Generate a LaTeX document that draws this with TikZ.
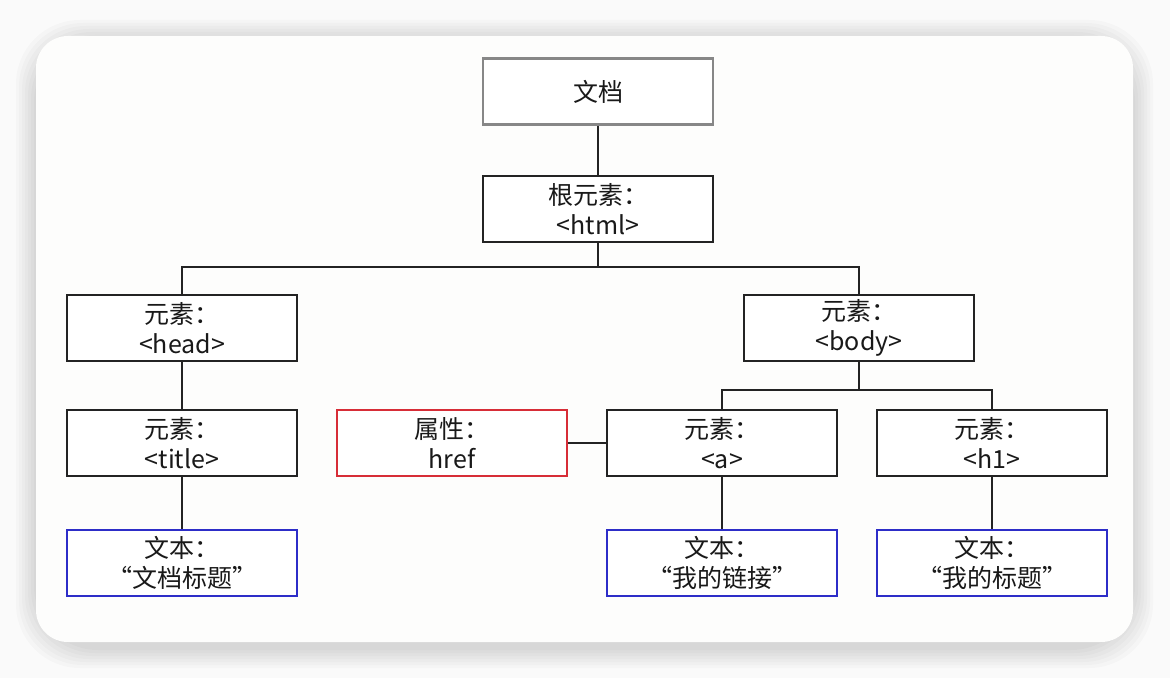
\documentclass[tikz,border=0pt]{standalone}
\usepackage{fontspec}
\setmainfont{Noto Sans CJK SC}
\usetikzlibrary{positioning}
\definecolor{boxline}{RGB}{35,35,35}
\definecolor{docline}{RGB}{135,135,135}
\definecolor{attrline}{RGB}{215,45,55}
\definecolor{textline}{RGB}{45,45,200}
\definecolor{cardbg}{RGB}{253,253,252}
\tikzset{
	domnode/.style={rectangle, draw=boxline, line width=1pt, fill=white, minimum width=115pt, minimum height=33pt, align=center, inner sep=0pt, font=\fontsize{12.5}{15}\selectfont, text=black!90},
	docnode/.style={domnode, draw=docline, line width=1.4pt},
	attrnode/.style={domnode, draw=attrline},
	textnode/.style={domnode, draw=textline},
	link/.style={draw=boxline, line width=1pt}
}
\begin{document}
\begin{tikzpicture}[x=0.5pt, y=-0.5pt]
			\useasboundingbox (0,0) rectangle (1170,678);
			\fill[white!98!black] (0,0) rectangle (1170,678);
			% soft shadow of the card
			\foreach \s in {20,17,...,0}
				\fill[black, opacity=0.02, rounded corners=32pt] (36-\s,40-\s) rectangle (1133+\s,648+\s);
			\fill[cardbg, rounded corners=16pt] (36,36) rectangle (1133,642);

			\node (doc)[docnode] at (598, 91.5) {文档};
			\node (root)[domnode] at (598, 209) {根元素：\\<html>};

			\node (head)[domnode] at (182, 328) {元素：\\<head>};
			\node (body)[domnode] at (859, 328) {元素：\\<body>};

			\node (title)[domnode] at (182, 443) {元素：\\<title>};
			\node (href)[attrnode] at (452, 443) {属性：\\href};
			\node (a)[domnode] at (722, 443) {元素：\\<a>};
			\node (h1)[domnode] at (992, 443) {元素：\\<h1>};

			\node (titletext)[textnode] at (182, 563) {文本：\\“文档标题”};
			\node (atext)[textnode] at (722, 563) {文本：\\“我的链接”};
			\node (h1text)[textnode] at (992, 563) {文本：\\“我的标题”};

			\coordinate (rootbus) at (598, 267);
			\coordinate (bodybus) at (859, 390);

			\draw[link] (doc) -- (root);
			\draw[link] (root) -- (rootbus);
			\draw[link] (head) |- (rootbus) -| (body);
			\draw[link] (body) -- (bodybus);
			\draw[link] (a) |- (bodybus) -| (h1);
			\draw[link] (head) -- (title);
			\draw[link] (title) -- (titletext);
			\draw[link] (href) -- (a);
			\draw[link] (a) -- (atext);
			\draw[link] (h1) -- (h1text);
		\end{tikzpicture}
\end{document}
